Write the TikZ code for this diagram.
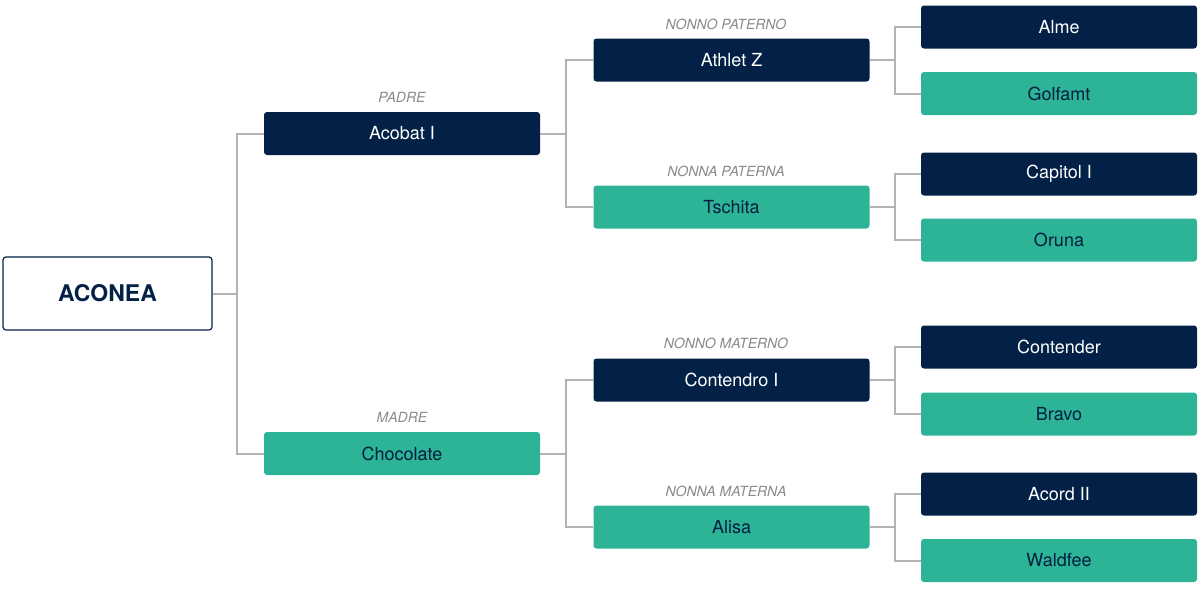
\documentclass[tikz,border=0pt]{standalone}
\usepackage{fontspec}
\setmainfont{TeX Gyre Heros}
\definecolor{navy}{HTML}{032147}
\definecolor{teal}{HTML}{2DB396}
\definecolor{lin}{HTML}{B3B3B3}
\definecolor{lab}{HTML}{8A8A8A}
\begin{document}
\begin{tikzpicture}[x=1pt,y=1pt,
 box/.style={minimum width=276pt,minimum height=43pt,rounded corners=3pt,inner sep=0pt,text=white,font=\fontsize{18}{20}\selectfont,anchor=center},
 n/.style={box,fill=navy},
 t/.style={box,fill=teal,text=navy!90!black},
 lbl/.style={font=\itshape\fontsize{14}{16}\selectfont,text=lab},
 ln/.style={draw=lin,line width=2pt}]
\useasboundingbox (0,0) rectangle (1200,-589);
\node[draw=navy,line width=1.2pt,rounded corners=3pt,minimum width=209pt,minimum height=73pt,font=\bfseries\fontsize{23}{26}\selectfont,text=navy] (r) at (107.5,-293.5) {ACONEA};
\node[n] (p) at (402,-133.5) {Acobat I};
\node[t] (m) at (402,-453.5) {Chocolate};
\node[n] (pp) at (731.5,-60) {Athlet Z};
\node[t] (pm) at (731.5,-207) {Tschita};
\node[n] (mp) at (731.5,-380) {Contendro I};
\node[t] (mm) at (731.5,-527) {Alisa};
\node[lbl] (l1) at (402,-97) {PADRE};
\node[lbl] (l2) at (402,-417) {MADRE};
\node[lbl] (l3) at (726,-24) {NONNO PATERNO};
\node[lbl] (l4) at (726,-171) {NONNA PATERNA};
\node[lbl] (l5) at (726,-343) {NONNO MATERNO};
\node[lbl] (l6) at (726,-491) {NONNA MATERNA};
\node[n] (a1) at (1059,-27) {Alme};
\node[t] (a2) at (1059,-93.5) {Golfamt};
\node[n] (a3) at (1059,-174) {Capitol I};
\node[t] (a4) at (1059,-240) {Oruna};
\node[n] (a5) at (1059,-347) {Contender};
\node[t] (a6) at (1059,-414) {Bravo};
\node[n] (a7) at (1059,-494) {Acord II};
\node[t] (a8) at (1059,-560.5) {Waldfee};
\begin{scope}[on background layer/.try]
\draw[ln] (r.east) -- (237,-293.5);
\draw[ln] (p.west) -| (237,-293.5) |- (m.west);
\draw[ln] (p.east) -- (566,-133.5);
\draw[ln] (pp.west) -| (566,-133.5) |- (pm.west);
\draw[ln] (m.east) -- (566,-453.5);
\draw[ln] (mp.west) -| (566,-453.5) |- (mm.west);
\foreach \s/\u/\v in {pp/a1/a2,pm/a3/a4,mp/a5/a6,mm/a7/a8}{
 \draw[ln] (\s.east) -- ++(25,0) coordinate (c);
 \draw[ln] (\u.west) -| (c) |- (\v.west);}
\end{scope}
\end{tikzpicture}
\end{document}
